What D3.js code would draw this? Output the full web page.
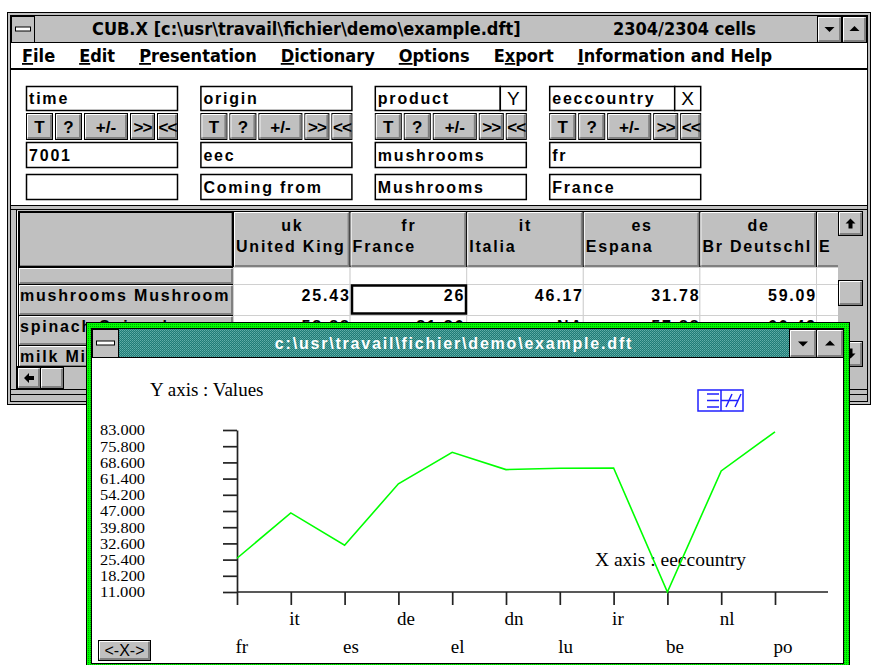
<!DOCTYPE html>
<html>
<head>
<meta charset="utf-8">
<script src="https://cdn.jsdelivr.net/npm/d3@7"></script>
<style>
html, body { margin: 0; padding: 0; background: #fff; overflow: hidden; }
svg { display: block; }
.ui { font-family: "Liberation Sans", Arial, sans-serif; font-weight: bold; font-size: 16px; letter-spacing: 1.8px; }
.btn { font-family: "Liberation Sans", Arial, sans-serif; font-weight: bold; font-size: 17px; }
.sys { font-family: "DejaVu Sans Condensed", "DejaVu Sans", sans-serif; font-weight: bold; font-size: 18px; letter-spacing: 0px; }
.serif { font-family: "Liberation Serif", "Times New Roman", serif; }
</style>
</head>
<body>
<svg id="ecran" width="871" height="665"></svg>
<script>
// Données du graphique (produit mushrooms, origine eec, temps 7001)
const pays = ['fr', 'it', 'es', 'de', 'el', 'dn', 'lu', 'ir', 'be', 'nl', 'po'];
const valeurs = [26.0, 46.17, 31.78, 59.09, 73.1, 65.4, 66.0, 66.1, 11.0, 64.8, 82.2];
const graduations = [83, 75.8, 68.6, 61.4, 54.2, 47, 39.8, 32.6, 25.4, 18.2, 11];

// Fenêtre principale CUB.X
const titre = 'CUB.X [c:\\usr\\travail\\fichier\\demo\\example.dft]';
const compteur = '2304/2304 cells';
const menus = ['File', 'Edit', 'Presentation', 'Dictionary', 'Options', 'Export', 'Information and Help'];
const menuSoulignes = [0, 0, 0, 0, 0, 1, 0];

const dimensions = ['time', 'origin', 'product', 'eeccountry'];
const axesDim = ['', '', 'Y', 'X'];
const codesDim = ['7001', 'eec', 'mushrooms', 'fr'];
const libellesDim = ['', 'Coming from', 'Mushrooms', 'France'];
const boutonsDim = ['T', '?', '+/-', '>>', '<<'];

const colCodes = ['uk', 'fr', 'it', 'es', 'de', 'el'];
const colNoms = ['United Kingdom', 'France', 'Italia', 'Espana', 'Br Deutschland', 'Ellas'];
const lignes = ['', 'mushrooms Mushrooms', 'spinach Spinach', 'milk Milk'];
const cellules = [
	['', '', '', '', '', ''],
	['25.43', '26', '46.17', '31.78', '59.09', ''],
	['58.88', '81.86', 'NA', '57.88', '60.49', ''],
	['', '', '', '', '', '']
];

const FACE = '#c0c0c0';
const OMBRE = '#808080';

const svg = d3.select('#ecran');
const defs = svg.append('defs');

const pVert = defs.append('pattern').attr('id', 'vert').attr('width', 2).attr('height', 2).attr('patternUnits', 'userSpaceOnUse');
pVert.append('rect').attr('width', 2).attr('height', 2).attr('fill', '#00ff00');
pVert.append('rect').attr('width', 1).attr('height', 1).attr('fill', '#00a000');

const pTeal = defs.append('pattern').attr('id', 'teal').attr('width', 2).attr('height', 2).attr('patternUnits', 'userSpaceOnUse');
pTeal.append('rect').attr('width', 2).attr('height', 2).attr('fill', '#1d7d78');
pTeal.append('rect').attr('width', 1).attr('height', 1).attr('fill', '#63aea8');
pTeal.append('rect').attr('x', 1).attr('y', 1).attr('width', 1).attr('height', 1).attr('fill', '#4f9c96');

function boite(g, x, y, w, h, fill, sw) {
	return g.append('rect').attr('x', x + 0.5).attr('y', y + 0.5)
		.attr('width', w - 1).attr('height', h - 1)
		.attr('fill', fill || '#fff').attr('stroke', '#000').attr('stroke-width', sw || 1);
}

function bouton(g, x, y, w, h, label) {
	const b = g.append('g');
	boite(b, x, y, w, h, FACE);
	b.append('path').attr('d', `M${x + 1.5},${y + h - 2.5}V${y + 1.5}H${x + w - 2.5}`)
		.attr('fill', 'none').attr('stroke', '#fff');
	b.append('path').attr('d', `M${x + 2},${y + h - 2}H${x + w - 2}V${y + 2}`)
		.attr('fill', 'none').attr('stroke', OMBRE).attr('stroke-width', 2);
	if (label) {
		b.append('text').attr('class', 'btn').attr('x', x + w / 2).attr('y', y + h / 2 + 6)
			.attr('text-anchor', 'middle').text(label);
	}
	return b;
}

function triangle(g, cx, cy, haut) {
	const s = haut ? -1 : 1;
	g.append('path').attr('d', `M${cx - 5},${cy - 2 * s}L${cx + 5},${cy - 2 * s}L${cx},${cy + 3 * s}Z`).attr('fill', '#000');
}

function fleche(g, cx, cy, dir) {
	// flèche pleine style Windows 3.1
	const p = {
		haut: `M${cx},${cy - 5}L${cx + 5},${cy}H${cx + 2}V${cy + 5}H${cx - 2}V${cy}H${cx - 5}Z`,
		bas: `M${cx},${cy + 5}L${cx + 5},${cy}H${cx + 2}V${cy - 5}H${cx - 2}V${cy}H${cx - 5}Z`,
		gauche: `M${cx - 5},${cy}L${cx},${cy - 5}V${cy - 2}H${cx + 5}V${cy + 2}H${cx}V${cy + 5}Z`
	};
	g.append('path').attr('d', p[dir]).attr('fill', '#000');
}

function menuSysteme(g, x, y, w, h) {
	boite(g, x, y, w, h, FACE);
	const cy = y + h / 2;
	g.append('rect').attr('x', x + 4.5).attr('y', cy - 2.5).attr('width', w - 9).attr('height', 4)
		.attr('fill', '#fff').attr('stroke', '#000');
}

// coupe un texte pour qu'il tienne dans la largeur donnée
function ajuste(t, largeur) {
	let s = t.text();
	while (s.length > 1 && t.node().getComputedTextLength() > largeur) {
		s = s.slice(0, -1);
		t.text(s);
	}
	return t;
}

// ---------------- Fenêtre principale ----------------
const fen = svg.append('g');
boite(fen, 7, 12, 864, 393, FACE);
fen.append('rect').attr('x', 10.5).attr('y', 15.5).attr('width', 857).attr('height', 386)
	.attr('fill', 'none').attr('stroke', '#000');

// barre de titre
fen.append('rect').attr('x', 11).attr('y', 16).attr('width', 856).attr('height', 26).attr('fill', FACE);
fen.append('line').attr('x1', 11).attr('x2', 867).attr('y1', 42.5).attr('y2', 42.5).attr('stroke', '#000');
menuSysteme(fen, 11, 16, 24, 27);
fen.append('text').attr('class', 'sys').attr('x', 92).attr('y', 35).text(titre);
fen.append('text').attr('class', 'sys').attr('x', 613).attr('y', 35).text(compteur);
const bBas = bouton(fen, 817, 16, 25, 27);
triangle(bBas, 829.5, 29, false);
const bHaut = bouton(fen, 842, 16, 25, 27);
triangle(bHaut, 854.5, 29, true);

// barre de menus
fen.append('rect').attr('x', 11).attr('y', 43).attr('width', 856).attr('height', 25).attr('fill', '#fff');
fen.append('line').attr('x1', 11).attr('x2', 867).attr('y1', 68.5).attr('y2', 68.5).attr('stroke', '#000');
let mx = 22;
menus.forEach((m, i) => {
	const t = fen.append('text').attr('class', 'sys').attr('x', mx).attr('y', 62);
	const k = menuSoulignes[i];
	if (k > 0) t.append('tspan').text(m.slice(0, k));
	t.append('tspan').attr('text-decoration', 'underline').text(m[k]);
	t.append('tspan').text(m.slice(k + 1));
	mx += t.node().getComputedTextLength() + 24;
});

// panneau des dimensions
fen.append('rect').attr('x', 11).attr('y', 70).attr('width', 856).attr('height', 135).attr('fill', '#fff');
fen.append('line').attr('x1', 11).attr('x2', 867).attr('y1', 69.5).attr('y2', 69.5).attr('stroke', '#000');
dimensions.forEach((d, i) => {
	const x0 = 26 + i * 174.4;
	const g = fen.append('g');
	if (axesDim[i]) {
		boite(g, x0, 86, 126, 25, '#fff', 1.5);
		boite(g, x0 + 125, 86, 27, 25, '#fff', 1.5);
		g.append('text').attr('x', x0 + 138.5).attr('y', 105).attr('text-anchor', 'middle')
			.attr('font-family', '"Liberation Sans", Arial, sans-serif').attr('font-size', 19).text(axesDim[i]);
	} else {
		boite(g, x0, 86, 152, 25, '#fff', 1.5);
	}
	g.append('text').attr('class', 'ui').attr('x', x0 + 3).attr('y', 104).text(d);
	const largeurs = [27, 27, 44, 25, 21];
	let bx = x0;
	boutonsDim.forEach((b, j) => {
		const bt = bouton(g, bx, 113, largeurs[j], 27, b);
		if (j > 2) bt.select('text').attr('letter-spacing', -1).attr('font-weight', 'normal');
		bx += largeurs[j] + 2;
	});
	boite(g, x0, 142, 152, 26, '#fff', 1.5);
	g.append('text').attr('class', 'ui').attr('x', x0 + 3).attr('y', 161).text(codesDim[i]);
	boite(g, x0, 174, 152, 26, '#fff', 1.5);
	g.append('text').attr('class', 'ui').attr('x', x0 + 3).attr('y', 193).text(libellesDim[i]);
});

// séparation avant le tableau
fen.append('line').attr('x1', 11).attr('x2', 867).attr('y1', 205.5).attr('y2', 205.5).attr('stroke', '#000');
fen.append('line').attr('x1', 11).attr('x2', 867).attr('y1', 209.5).attr('y2', 209.5).attr('stroke', '#000');

// tableau
const tab = fen.append('g');
const bords = d3.range(colCodes.length + 1).map(i => 233 + i * 116.6);
const hauts = [267, 284, 315, 345, 367];
tab.append('rect').attr('x', 17).attr('y', 211).attr('width', 821).attr('height', 156).attr('fill', '#fff');
tab.append('line').attr('x1', 16.5).attr('x2', 16.5).attr('y1', 210).attr('y2', 390).attr('stroke', '#000');

defs.append('clipPath').attr('id', 'clipTab').append('rect').attr('x', 17).attr('y', 211).attr('width', 821).attr('height', 156);
const tabc = tab.append('g').attr('clip-path', 'url(#clipTab)');

// en-tête
const coin = bouton(tabc, 18, 211, 216, 57);
coin.append('rect').attr('x', 19).attr('y', 212).attr('width', 214).attr('height', 55)
	.attr('fill', 'none').attr('stroke', '#000').attr('stroke-width', 2);
colCodes.forEach((c, i) => {
	const x0 = bords[i], x1 = bords[i + 1];
	const visible = Math.min(x1, 838) - x0 - 4;
	bouton(tabc, x0, 211, x1 - x0 + 1, 57);
	if ((x0 + x1) / 2 < 838) {
		tabc.append('text').attr('class', 'ui').attr('x', (x0 + x1) / 2 + 1).attr('y', 231)
			.attr('text-anchor', 'middle').text(c);
	}
	ajuste(tabc.append('text').attr('class', 'ui').attr('x', x0 + 3).attr('y', 252).text(colNoms[i]), visible);
});

// lignes
lignes.forEach((l, r) => {
	const y0 = hauts[r], y1 = hauts[r + 1] || 372;
	bouton(tabc, 18, y0, 216, y1 - y0 + 1);
	ajuste(tabc.append('text').attr('class', 'ui').attr('x', 20).attr('y', y0 + 17).text(l), 212);
	cellules[r].forEach((v, i) => {
		const x0 = bords[i], x1 = bords[i + 1];
		tabc.append('rect').attr('x', x0 + 0.5).attr('y', y0 + 0.5).attr('width', x1 - x0).attr('height', y1 - y0)
			.attr('fill', '#fff').attr('stroke', '#d0d0d0');
		if (v) {
			tabc.append('text').attr('class', 'ui').attr('x', x1 + (i === 1 ? -1 : 1)).attr('y', y0 + 17)
				.attr('text-anchor', 'end').text(v);
		}
	});
});
// cellule sélectionnée
tabc.append('rect').attr('x', 352).attr('y', 285.5).attr('width', 114).attr('height', 28)
	.attr('fill', 'none').attr('stroke', '#000').attr('stroke-width', 2.5);

// ascenseur vertical
tab.append('rect').attr('x', 838).attr('y', 211).attr('width', 25).attr('height', 156).attr('fill', FACE);
const aH = bouton(tab, 838, 211, 25, 25);
fleche(aH, 850.5, 223.5, 'haut');
bouton(tab, 838, 280, 25, 26);
const aB = bouton(tab, 838, 341, 25, 26);
fleche(aB, 850.5, 353.5, 'bas');

// ascenseur horizontal
tab.append('rect').attr('x', 17).attr('y', 367).attr('width', 846).attr('height', 22).attr('fill', FACE);
tab.append('line').attr('x1', 17).attr('x2', 863).attr('y1', 366.5).attr('y2', 366.5).attr('stroke', '#000');
const aG = bouton(tab, 17, 367, 24, 22);
fleche(aG, 29, 378, 'gauche');
bouton(tab, 40, 367, 24, 22);
tab.append('line').attr('x1', 11).attr('x2', 867).attr('y1', 389.5).attr('y2', 389.5).attr('stroke', '#000');
tab.append('line').attr('x1', 11).attr('x2', 867).attr('y1', 394.5).attr('y2', 394.5).attr('stroke', '#000');

// ---------------- Fenêtre du graphique ----------------
const gw = svg.append('g');
gw.append('rect').attr('x', 86).attr('y', 322).attr('width', 764).attr('height', 350).attr('fill', '#000');
gw.append('rect').attr('x', 87).attr('y', 323).attr('width', 762).attr('height', 350).attr('fill', 'url(#vert)');
gw.append('rect').attr('x', 91.5).attr('y', 328.5).attr('width', 752).attr('height', 335)
	.attr('fill', '#fff').attr('stroke', '#000');
gw.append('rect').attr('x', 92).attr('y', 329).attr('width', 751).attr('height', 28).attr('fill', 'url(#teal)');
gw.append('line').attr('x1', 92).attr('x2', 843).attr('y1', 357.5).attr('y2', 357.5).attr('stroke', '#000');
menuSysteme(gw, 92, 329, 27, 29);
gw.append('text').attr('class', 'ui').attr('x', 454).attr('y', 349).attr('text-anchor', 'middle')
	.attr('fill', '#fff').text('c:\\usr\\travail\\fichier\\demo\\example.dft');
const cBas = bouton(gw, 789, 329, 28, 29);
triangle(cBas, 803, 343.5, false);
const cHaut = bouton(gw, 816, 329, 28, 29);
triangle(cHaut, 830, 343.5, true);

// zone du graphique
const chart = gw.append('g');
const x = d3.scalePoint().domain(pays).range([237, 775]);
const y = d3.scaleLinear().domain([11, 83]).range([592, 430]);

chart.append('text').attr('class', 'serif').attr('x', 150).attr('y', 396).attr('font-size', 19)
	.text('Y axis : Values');
chart.append('text').attr('class', 'serif').attr('x', 595).attr('y', 566).attr('font-size', 19.5)
	.text('X axis : eeccountry');

// icône bleue
const ic = chart.append('g').attr('stroke', '#2020ff').attr('fill', 'none').attr('stroke-width', 1.5);
ic.append('rect').attr('x', 698).attr('y', 390).attr('width', 45).attr('height', 21);
ic.append('path').attr('d', 'M707,394H719M707,400.5H719M707,407H719M721,390V411M726,407L732,394M735,407L741,394M721,400.5H738');

const gy = chart.append('g').attr('transform', 'translate(237,0)')
	.call(d3.axisLeft(y).tickValues(graduations).tickSize(14).tickSizeOuter(0).tickPadding(78).tickFormat(d3.format('.3f')));
gy.attr('font-family', '"Liberation Serif", serif').attr('font-size', 15);
gy.selectAll('line, path').attr('stroke', '#222').attr('stroke-width', 1.7);
gy.selectAll('text').attr('fill', '#000').attr('textLength', 45).attr('lengthAdjust', 'spacingAndGlyphs');

const gx = chart.append('g').attr('transform', 'translate(0,592)')
	.call(d3.axisBottom(x).tickSize(13).tickSizeOuter(0));
gx.select('.domain').remove();
gx.append('line').attr('x1', 237).attr('x2', 828).attr('stroke', '#222').attr('stroke-width', 1.7);
gx.attr('font-family', '"Liberation Serif", serif').attr('font-size', 19);
gx.selectAll('line').attr('stroke', '#222').attr('stroke-width', 1.7);
gx.selectAll('.tick text').attr('fill', '#000').attr('text-anchor', 'start').attr('dx', -2)
	.attr('dy', 0).attr('y', (d, i) => i % 2 ? 33 : 61);

const ligne = d3.line().x((d, i) => x(pays[i])).y(d => y(d));
chart.append('path').datum(valeurs).attr('d', ligne)
	.attr('fill', 'none').attr('stroke', '#00ff00').attr('stroke-width', 1.6);

// bouton <-X->
bouton(chart, 98, 640, 53, 21);
chart.append('text').attr('x', 124.5).attr('y', 656).attr('text-anchor', 'middle')
	.attr('font-family', '"Liberation Sans", Arial, sans-serif').attr('font-size', 16).text('<-X->');
</script>
</body>
</html>
